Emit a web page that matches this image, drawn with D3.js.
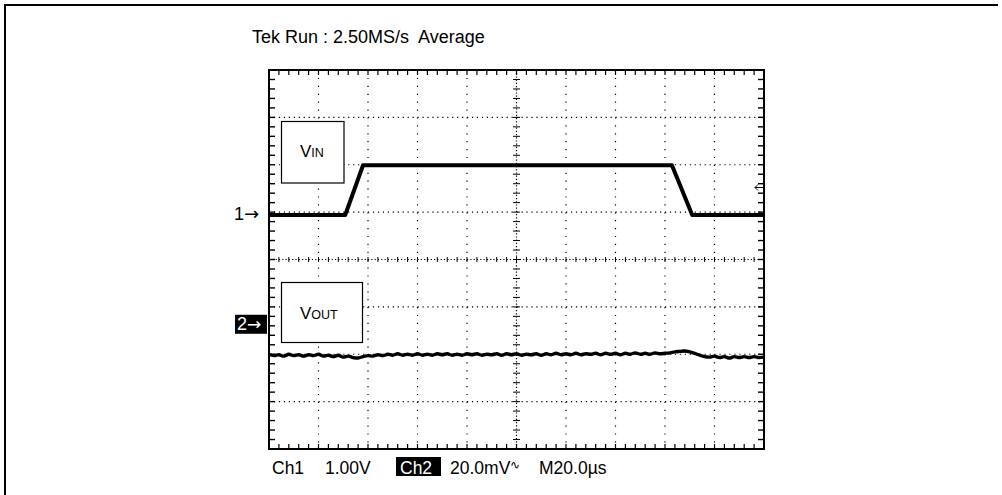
<!DOCTYPE html>
<html><head><meta charset="utf-8">
<script src="https://cdn.jsdelivr.net/npm/d3@7"></script>
<style>
html,body{margin:0;padding:0;background:#fff;}
svg text{font-family:"Liberation Sans",Arial,Helvetica,sans-serif;white-space:pre;}
</style></head>
<body>
<svg id="c" width="1002" height="495"></svg>
<script>
// ---- data (divisions) ----
const ch1Time  = [0, 1.54, 1.90, 8.14, 8.55, 10];
const ch1Level = [0.94, 0.94, 1.99, 1.99, 0.94, 0.94];
const ch2Time  = d3.range(0, 10.001, 0.1);
const ch2Level = [-2.00,-2.03,-2.01,-2.04,-2.00,-2.03,-2.01,-2.04,-2.01,-2.03,
                  -2.00,-2.04,-2.02,-2.05,-2.02,-2.06,-2.04,-2.07,-2.08,-2.05,
                  -2.03,-2.04,-2.01,-2.03,-2.00,-2.02,-1.99,-2.02,-2.00,-2.02,
                  -1.99,-2.02,-2.00,-2.02,-1.99,-2.01,-1.99,-2.02,-2.00,-2.02,
                  -1.99,-2.01,-1.99,-2.02,-2.00,-2.01,-1.99,-2.02,-1.99,-2.01,
                  -1.99,-2.02,-2.00,-2.01,-1.99,-2.02,-1.99,-2.01,-1.98,-2.01,
                  -1.99,-2.01,-1.98,-2.01,-1.99,-2.00,-1.98,-2.01,-1.98,-2.00,
                  -1.98,-2.01,-1.98,-2.00,-1.97,-2.00,-1.98,-2.00,-1.97,-1.99,
                  -1.98,-1.97,-1.95,-1.94,-1.93,-1.95,-1.98,-2.02,-2.05,-2.06,
                  -2.04,-2.07,-2.05,-2.08,-2.05,-2.07,-2.05,-2.07,-2.05,-2.07,-2.06];
const ch1Marker = 0.96, ch2Marker = -1.42, trigLevel = 1.52;
const headerText = "Tek Run : 2.50MS/s  Average";
const footer = {ch1:"Ch1", ch1Scale:"1.00V", ch2:"Ch2", ch2Scale:"20.0mV", time:"M20.0µs"};

const svg = d3.select("#c");
const x = d3.scaleLinear([0,10],[269,764]);
const y = d3.scaleLinear([-4,4],[449,70]);

// outer frame (top & left)
svg.append("path").attr("d","M5,495 L5,5 L998,5").attr("fill","none").attr("stroke","#000").attr("stroke-width",2);

const g = svg.append("g");
const majX = d3.range(1,10), majY = d3.range(-3,4);
g.selectAll(".vx").data(majX.filter(d=>d!==5)).join("line")
  .attr("x1",d=>x(d)).attr("x2",d=>x(d)).attr("y1",y(4)).attr("y2",y(-4))
  .attr("stroke","#000").attr("stroke-width",1.2).attr("stroke-dasharray","1.2,6.7");
g.selectAll(".hy").data(majY.filter(d=>d!==0)).join("line")
  .attr("x1",x(0)).attr("x2",x(10)).attr("y1",d=>y(d)).attr("y2",d=>y(d))
  .attr("stroke","#000").attr("stroke-width",1.2).attr("stroke-dasharray","1.2,3.75");
g.append("line").attr("x1",x(0)).attr("x2",x(10)).attr("y1",y(0)).attr("y2",y(0))
  .attr("stroke","#000").attr("stroke-width",1.2).attr("stroke-dasharray","1.2,2.1");
g.append("line").attr("x1",x(5)).attr("x2",x(5)).attr("y1",y(4)).attr("y2",y(-4))
  .attr("stroke","#000").attr("stroke-width",1.2).attr("stroke-dasharray","1.2,2.0");
const minX = d3.range(0,10.001,0.2), minY = d3.range(-4,4.001,0.2);
g.selectAll(".cxt").data(minX).join("line")
  .attr("x1",d=>x(d)).attr("x2",d=>x(d)).attr("y1",y(0)-2.5).attr("y2",y(0)+2.5)
  .attr("stroke","#000").attr("stroke-width",1);
g.selectAll(".cyt").data(minY).join("line")
  .attr("x1",x(5)-3.5).attr("x2",x(5)+3.5).attr("y1",d=>y(d)).attr("y2",d=>y(d))
  .attr("stroke","#000").attr("stroke-width",1);
g.selectAll(".tt").data(minX).join("line")
  .attr("x1",d=>x(d)).attr("x2",d=>x(d)).attr("y1",y(4)).attr("y2",y(4)+5)
  .attr("stroke","#000").attr("stroke-width",1.2);
g.selectAll(".bt").data(minX).join("line")
  .attr("x1",d=>x(d)).attr("x2",d=>x(d)).attr("y1",y(-4)).attr("y2",y(-4)-5)
  .attr("stroke","#000").attr("stroke-width",1.2);
g.selectAll(".lt").data(minY).join("line")
  .attr("x1",x(0)).attr("x2",x(0)+6).attr("y1",d=>y(d)).attr("y2",d=>y(d))
  .attr("stroke","#000").attr("stroke-width",1.4);
g.selectAll(".rt").data(minY).join("line")
  .attr("x1",x(10)).attr("x2",x(10)-6).attr("y1",d=>y(d)).attr("y2",d=>y(d))
  .attr("stroke","#000").attr("stroke-width",1.4);
g.append("rect").attr("x",x(0)).attr("y",y(4)).attr("width",x(10)-x(0)).attr("height",y(-4)-y(4))
  .attr("fill","none").attr("stroke","#000").attr("stroke-width",2);

function labelBox(bx,by,bw,bh,big,small,tx,ty){
  svg.append("rect").attr("x",bx).attr("y",by).attr("width",bw).attr("height",bh)
    .attr("fill","#fff").attr("stroke","#000").attr("stroke-width",1.2);
  const t = svg.append("text").attr("x",tx).attr("y",ty).attr("font-size",17);
  t.append("tspan").text(big);
  t.append("tspan").attr("font-size",12.5).text(small);
}
labelBox(281.5,121.5,62.5,61.5,"V","IN",300,157);
labelBox(281.5,282.5,81,60,"V","OUT",300,319);

const line = d3.line().x(d=>x(d[0])).y(d=>y(d[1]));
svg.append("path").datum(ch1Time.map((t,i)=>[t,ch1Level[i]])).attr("d",line)
  .attr("fill","none").attr("stroke","#000").attr("stroke-width",4).attr("stroke-linejoin","round");
svg.append("path").datum(ch2Time.map((t,i)=>[t,ch2Level[i]])).attr("d",line.curve(d3.curveCatmullRom))
  .attr("fill","none").attr("stroke","#000").attr("stroke-width",3.4).attr("stroke-linejoin","round");

// markers
const m1 = svg.append("text").attr("x",234).attr("y",y(ch1Marker)+6).attr("font-size",18);
m1.append("tspan").text("1");
m1.append("tspan").attr("font-family","DejaVu Sans").attr("font-size",18).text("→");
svg.append("rect").attr("x",235).attr("y",y(ch2Marker)-12).attr("width",32).attr("height",19).attr("fill","#000");
const m2 = svg.append("text").attr("x",237).attr("y",y(ch2Marker)+3).attr("font-size",18).attr("fill","#fff");
m2.append("tspan").text("2");
m2.append("tspan").attr("font-family","DejaVu Sans").attr("font-size",17).text("→");
const ty = y(trigLevel);
svg.append("path").attr("d",`M${x(10)-1},${ty} L${x(10)-9},${ty} M${x(10)-6},${ty-3} L${x(10)-9},${ty} L${x(10)-6},${ty+3}`)
  .attr("fill","none").attr("stroke","#000").attr("stroke-width",1);

svg.append("text").attr("x",252).attr("y",43).attr("font-size",18).text(headerText);
svg.append("text").attr("x",272).attr("y",474).attr("font-size",17.5).text(footer.ch1);
svg.append("text").attr("x",325).attr("y",474).attr("font-size",17.5).text(footer.ch1Scale);
svg.append("rect").attr("x",396).attr("y",457).attr("width",45).attr("height",19).attr("fill","#000");
svg.append("text").attr("x",400).attr("y",474).attr("font-size",17.5).attr("fill","#fff").text(footer.ch2);
const t2 = svg.append("text").attr("x",450).attr("y",474).attr("font-size",17.5).text(footer.ch2Scale);
t2.append("tspan").attr("font-size",12).attr("dy",-5).text("∿");
svg.append("text").attr("x",539).attr("y",474).attr("font-size",17.5).text(footer.time);
</script>
</body></html>
